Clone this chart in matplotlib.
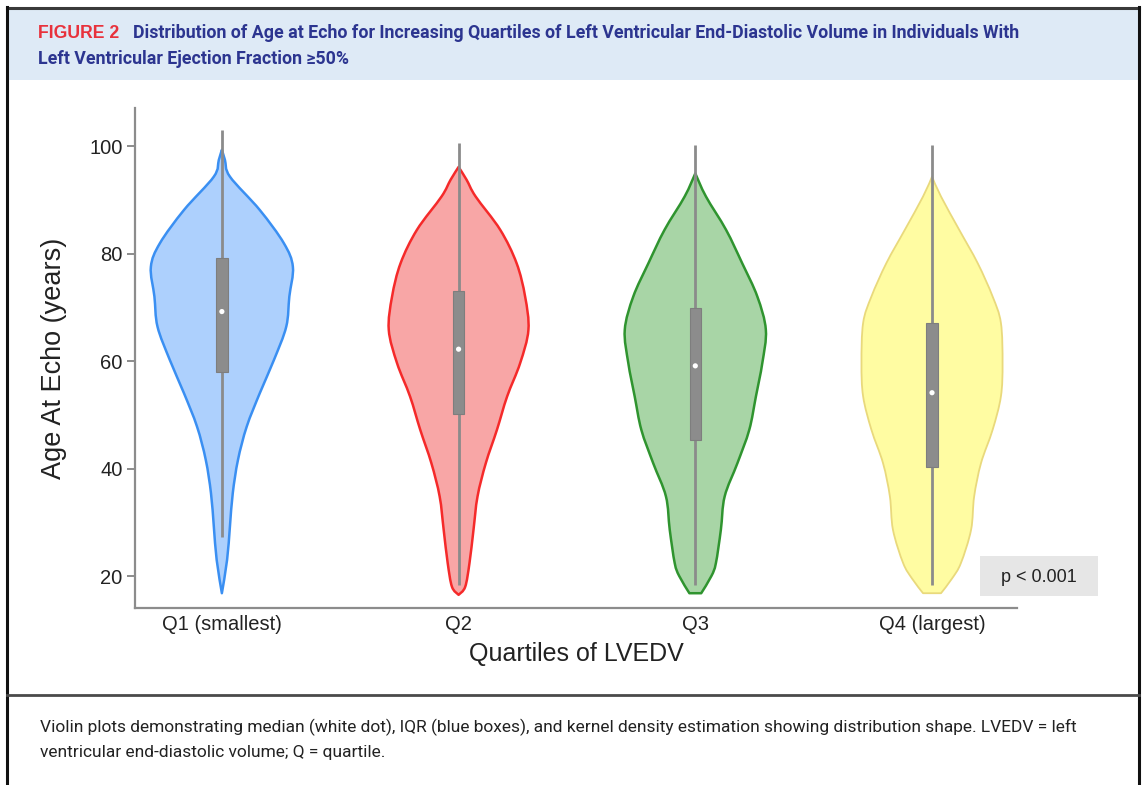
import matplotlib
matplotlib.use("Agg")
import matplotlib.pyplot as plt
from matplotlib.path import Path
from matplotlib.patches import PathPatch, Rectangle
from matplotlib.lines import Line2D
import numpy as np

# ---- data -------------------------------------------------------------
categories = ["Q1 (smallest)", "Q2", "Q3", "Q4 (largest)"]

# kernel density outline: age (years) and half-width of the violin
q1_age = [99.3, 97.4, 94.3, 88.1, 81.9, 77.5, 72.0, 66.4, 60.2, 54.0, 47.8, 41.6, 35.4, 29.2, 23.0, 16.8]
q1_dens = [0.0, 0.013, 0.034, 0.160, 0.262, 0.300, 0.285, 0.272, 0.220, 0.160, 0.105, 0.068, 0.046, 0.034, 0.022, 0.0]

q2_age = [96.1, 93.7, 90.6, 84.4, 78.2, 72.0, 65.8, 59.6, 53.4, 47.2, 41.0, 34.8, 28.6, 22.4, 18.0, 16.5]
q2_dens = [0.0, 0.034, 0.072, 0.176, 0.245, 0.281, 0.295, 0.260, 0.205, 0.162, 0.115, 0.080, 0.063, 0.046, 0.028, 0.0]

q3_age = [94.9, 90.6, 84.4, 78.2, 72.0, 65.8, 59.6, 53.4, 47.2, 41.0, 34.8, 28.6, 22.4, 20.0, 16.8]
q3_dens = [0.0, 0.045, 0.130, 0.198, 0.262, 0.298, 0.283, 0.256, 0.228, 0.178, 0.124, 0.108, 0.087, 0.068, 0.025]

q4_age = [94.3, 90.6, 84.4, 78.2, 72.0, 67.1, 59.6, 53.4, 47.2, 41.0, 34.8, 28.6, 22.4, 19.5, 16.8]
q4_dens = [0.0, 0.038, 0.115, 0.193, 0.256, 0.291, 0.298, 0.291, 0.256, 0.207, 0.178, 0.165, 0.122, 0.084, 0.038]

# box plot summary: lower whisker, Q1, median, Q3, upper whisker
whisker_low = [27.3, 18.3, 18.3, 18.3]
box_low = [58.0, 50.1, 45.3, 40.2]
medians = [69.2, 62.2, 59.1, 54.1]
box_high = [79.1, 73.1, 69.9, 67.0]
whisker_high = [103.0, 100.5, 100.2, 100.2]

yticks = [20, 40, 60, 80, 100]

ages = [q1_age, q2_age, q3_age, q4_age]
dens = [q1_dens, q2_dens, q3_dens, q4_dens]

fills = ["#add0fd", "#f8a6a6", "#a8d5a6", "#fffca2"]
edges = ["#3a8ff2", "#f52a2a", "#2f942f", "#e9d97c"]
edge_w = [1.8, 1.8, 1.8, 1.3]

W, H = 1142, 785
fig = plt.figure(figsize=(W / 100, H / 100), dpi=100)
renderer = fig.canvas.get_renderer()


def fx(x):
    return x / W


def fy(y):
    return 1 - y / H


def fit_width(txt, target_px):
    """Scale a text's font size so that it spans target_px pixels."""
    w = txt.get_window_extent(renderer).width
    txt.set_fontsize(txt.get_fontsize() * target_px / w)
    return txt.get_fontsize()


# ---- frame, header band and divider ----------------------------------
fig.patches.append(Rectangle((fx(8), fy(80)), fx(1138) - fx(8), fy(8) - fy(80),
                             transform=fig.transFigure, facecolor="#deeaf6",
                             edgecolor="none", zorder=0))
for (x0, y0, x1, y1, c, lw) in [
    (7, 8, 1139, 8, "#3a3a3a", 2.2),
    (7, 7, 7, 785, "#111111", 2.2),
    (1139, 7, 1139, 785, "#111111", 2.2),
    (7, 695, 1139, 695, "#4a4a4a", 2.0),
]:
    fig.add_artist(Line2D([fx(x0), fx(x1)], [fy(y0), fy(y1)],
                          transform=fig.transFigure, color=c, lw=lw))

title_font = ["Roboto", "DejaVu Sans"]
fig_label = fig.text(fx(38), fy(33), "FIGURE 2", color="#e8323c", fontsize=11.5,
                     fontweight="bold", family=["Liberation Sans", "DejaVu Sans"],
                     va="center", ha="left")
fit_width(fig_label, 82)
t1 = fig.text(fx(133), fy(33),
              "Distribution of Age at Echo for Increasing Quartiles of Left Ventricular "
              "End-Diastolic Volume in Individuals With",
              color="#2c3590", fontsize=11.5, fontweight="bold", family=title_font,
              va="center", ha="left")
tsize = fit_width(t1, 885)
fig.text(fx(38), fy(59), "Left Ventricular Ejection Fraction \u226550%",
         color="#2c3590", fontsize=tsize, fontweight="bold", family=title_font,
         va="center", ha="left")

cap_font = ["Roboto", "DejaVu Sans"]
c1 = fig.text(fx(40), fy(727),
              "Violin plots demonstrating median (white dot), IQR (blue boxes), and kernel "
              "density estimation showing distribution shape. LVEDV = left",
              color="#222222", fontsize=11.5, family=cap_font, va="center", ha="left")
csize = fit_width(c1, 1043)
fig.text(fx(40), fy(753), "ventricular end-diastolic volume; Q = quartile.",
         color="#222222", fontsize=csize, family=cap_font, va="center", ha="left")

# ---- violin chart -----------------------------------------------------
ax = fig.add_axes([fx(135), fy(608), fx(1017) - fx(135), fy(108) - fy(608)])
ax.set_xlim(-0.367, 3.359)
ax.set_ylim(14.05, 107.07)


def smooth_side(xs, ys):
    """Catmull-Rom curve through the points, as cubic Bezier path pieces."""
    pts = np.column_stack([xs, ys])
    n = len(pts)
    verts, codes = [tuple(pts[0])], [Path.MOVETO]
    for i in range(n - 1):
        p0 = pts[i - 1] if i > 0 else pts[i]
        p1, p2 = pts[i], pts[i + 1]
        p3 = pts[i + 2] if i + 2 < n else pts[i + 1]
        c1_ = p1 + (p2 - p0) / 6.0
        c2_ = p2 - (p3 - p1) / 6.0
        verts += [tuple(c1_), tuple(c2_), tuple(p2)]
        codes += [Path.CURVE4] * 3
    return verts, codes


arial = ["Liberation Sans", "DejaVu Sans"]

for i in range(len(categories)):
    a = np.asarray(ages[i])
    d = np.asarray(dens[i])
    rv, rc = smooth_side(i + d, a)
    lv, lc = smooth_side((i - d)[::-1], a[::-1])
    verts = rv + lv[0:1] + lv[1:]
    codes = rc + [Path.LINETO] + lc[1:]
    verts.append(rv[0])
    codes.append(Path.CLOSEPOLY)
    patch = PathPatch(Path(verts, codes), facecolor=fills[i], edgecolor=edges[i],
                      lw=edge_w[i], zorder=2, joinstyle="round")
    ax.add_patch(patch)

    ax.plot([i, i], [whisker_low[i], whisker_high[i]], color="#8b8b8b",
            lw=2.0, zorder=3, solid_capstyle="butt")
    ax.add_patch(Rectangle((i - 0.024, box_low[i]), 0.048, box_high[i] - box_low[i],
                           facecolor="#8c8c8c", edgecolor="#7e7e7e", lw=0.8, zorder=4))
    ax.scatter([i], [medians[i]], s=14, color="white", zorder=5, edgecolors="none")

for side in ["top", "right"]:
    ax.spines[side].set_visible(False)
for side in ["left", "bottom"]:
    ax.spines[side].set_color("#8c8c8c")
    ax.spines[side].set_linewidth(1.6)

ax.set_yticks(yticks)
ax.set_yticklabels([str(v) for v in yticks], family=arial, fontsize=14.5, color="#222222")
ax.set_xticks(range(len(categories)))
ax.set_xticklabels(categories, family=arial, fontsize=14.5, color="#222222")
ax.tick_params(axis="y", length=6, width=1.4, color="#8c8c8c", pad=3)
ax.tick_params(axis="x", length=0, pad=5)

ax.set_ylabel("Age At Echo (years)", family=arial, fontsize=19.5, color="#222222",
              labelpad=16)
ax.set_xlabel("Quartiles of LVEDV", family=arial, fontsize=18, color="#222222",
              labelpad=6)

# p-value box
fig.patches.append(Rectangle((fx(980), fy(596)), fx(1098) - fx(980), fy(556) - fy(596),
                             transform=fig.transFigure, facecolor="#e6e6e6",
                             edgecolor="none", zorder=5))
fig.text(fx(1039), fy(577), "p < 0.001", family=arial, fontsize=13,
         color="#222222", ha="center", va="center", zorder=6)

fig.savefig("out.png", dpi=100)
